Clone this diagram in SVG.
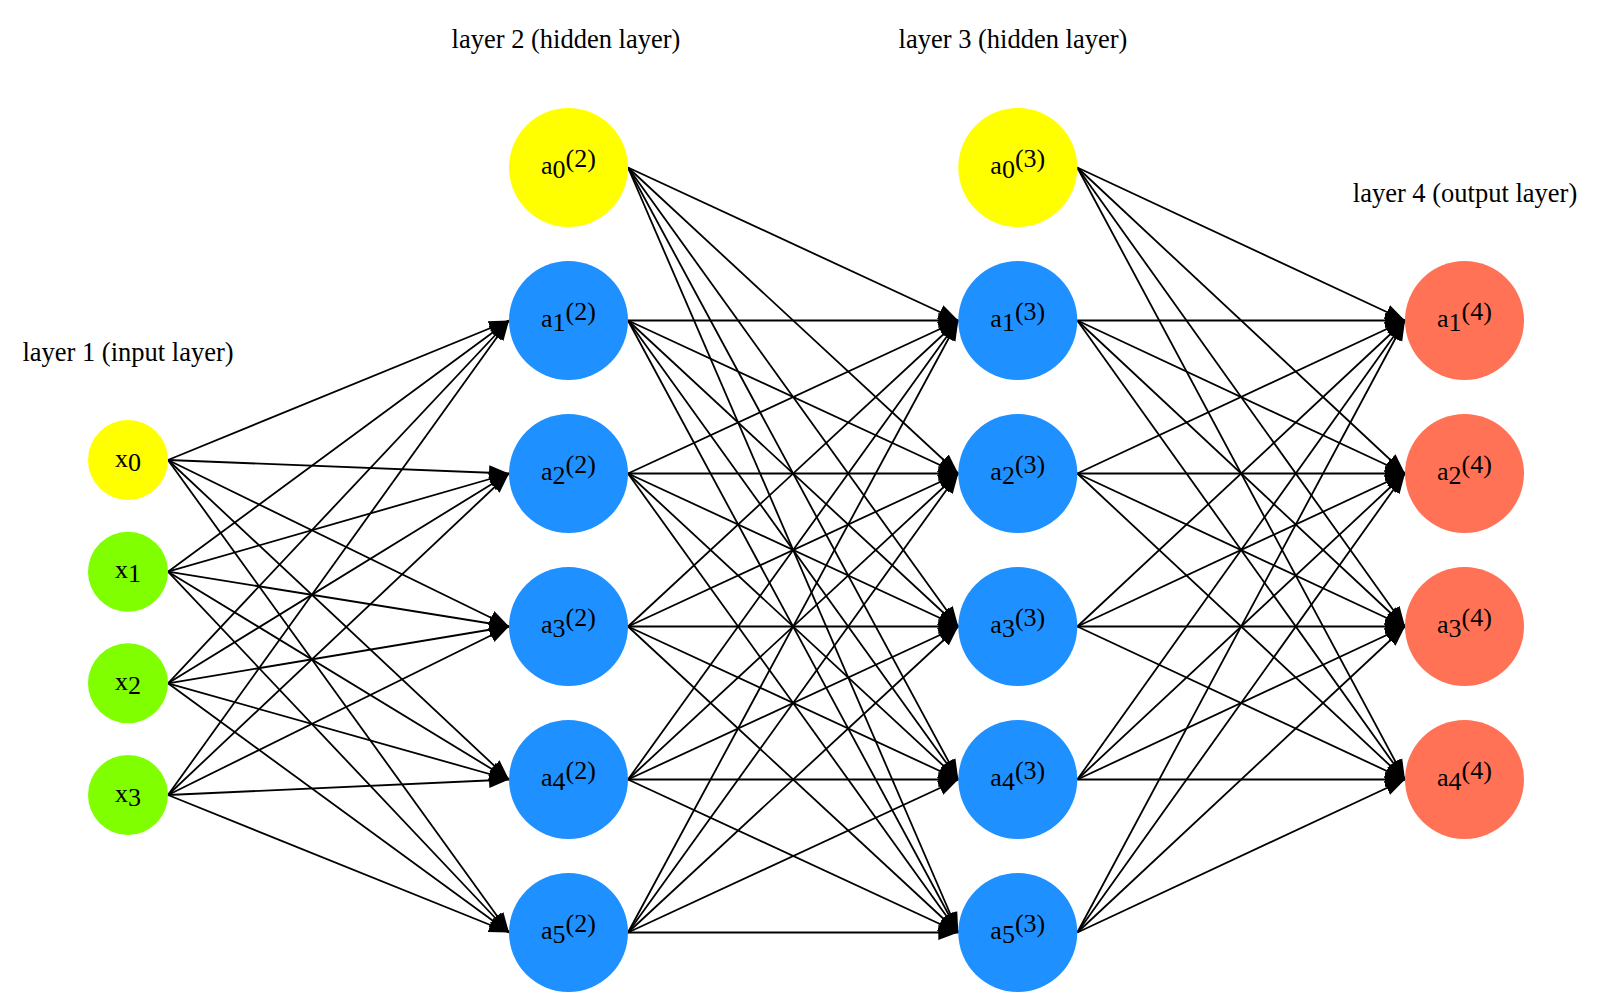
<svg xmlns="http://www.w3.org/2000/svg" width="1600" height="999" viewBox="0 0 1600 999">
<style>
.t{font-family:"Liberation Serif","Times New Roman",serif;font-size:26.5px;fill:#000;text-anchor:middle}
.n{font-family:"Liberation Serif","Times New Roman",serif;font-size:26px;fill:#000;text-anchor:middle}
.e line{stroke:#000;stroke-width:1.8;fill:none;marker-end:url(#ah)}
.bias{fill:#ffff00}
.inp{fill:#7fff00}
.hid{fill:#1e90ff}
.out{fill:#ff7256}
</style>
<defs>
<marker id="ah" markerUnits="userSpaceOnUse" markerWidth="22" markerHeight="18" viewBox="0 0 22 18" refX="20" refY="9" orient="auto">
<path d="M0,1.5 L20,9 L0,16.5 z" fill="#000"/>
</marker>
</defs>
<rect width="1600" height="999" fill="#fff"/>
<g id="labels">
<text class="t" x="128" y="360.7">layer 1 (input layer)</text>
<text class="t" x="566" y="47.5">layer 2 (hidden layer)</text>
<text class="t" x="1013" y="47.5">layer 3 (hidden layer)</text>
<text class="t" x="1465" y="201.7">layer 4 (output layer)</text>
</g>
<g id="connectors" class="e">
<line x1="168" y1="460" x2="509" y2="320.5"/>
<line x1="168" y1="460" x2="509" y2="473.5"/>
<line x1="168" y1="460" x2="509" y2="626.5"/>
<line x1="168" y1="460" x2="509" y2="779.5"/>
<line x1="168" y1="460" x2="509" y2="932.5"/>
<line x1="168" y1="571.7" x2="509" y2="320.5"/>
<line x1="168" y1="571.7" x2="509" y2="473.5"/>
<line x1="168" y1="571.7" x2="509" y2="626.5"/>
<line x1="168" y1="571.7" x2="509" y2="779.5"/>
<line x1="168" y1="571.7" x2="509" y2="932.5"/>
<line x1="168" y1="683.3" x2="509" y2="320.5"/>
<line x1="168" y1="683.3" x2="509" y2="473.5"/>
<line x1="168" y1="683.3" x2="509" y2="626.5"/>
<line x1="168" y1="683.3" x2="509" y2="779.5"/>
<line x1="168" y1="683.3" x2="509" y2="932.5"/>
<line x1="168" y1="795" x2="509" y2="320.5"/>
<line x1="168" y1="795" x2="509" y2="473.5"/>
<line x1="168" y1="795" x2="509" y2="626.5"/>
<line x1="168" y1="795" x2="509" y2="779.5"/>
<line x1="168" y1="795" x2="509" y2="932.5"/>

<line x1="628" y1="167.5" x2="958.3" y2="320.5"/>
<line x1="628" y1="167.5" x2="958.3" y2="473.5"/>
<line x1="628" y1="167.5" x2="958.3" y2="626.5"/>
<line x1="628" y1="167.5" x2="958.3" y2="779.5"/>
<line x1="628" y1="167.5" x2="958.3" y2="932.5"/>
<line x1="628" y1="320.5" x2="958.3" y2="320.5"/>
<line x1="628" y1="320.5" x2="958.3" y2="473.5"/>
<line x1="628" y1="320.5" x2="958.3" y2="626.5"/>
<line x1="628" y1="320.5" x2="958.3" y2="779.5"/>
<line x1="628" y1="320.5" x2="958.3" y2="932.5"/>
<line x1="628" y1="473.5" x2="958.3" y2="320.5"/>
<line x1="628" y1="473.5" x2="958.3" y2="473.5"/>
<line x1="628" y1="473.5" x2="958.3" y2="626.5"/>
<line x1="628" y1="473.5" x2="958.3" y2="779.5"/>
<line x1="628" y1="473.5" x2="958.3" y2="932.5"/>
<line x1="628" y1="626.5" x2="958.3" y2="320.5"/>
<line x1="628" y1="626.5" x2="958.3" y2="473.5"/>
<line x1="628" y1="626.5" x2="958.3" y2="626.5"/>
<line x1="628" y1="626.5" x2="958.3" y2="779.5"/>
<line x1="628" y1="626.5" x2="958.3" y2="932.5"/>
<line x1="628" y1="779.5" x2="958.3" y2="320.5"/>
<line x1="628" y1="779.5" x2="958.3" y2="473.5"/>
<line x1="628" y1="779.5" x2="958.3" y2="626.5"/>
<line x1="628" y1="779.5" x2="958.3" y2="779.5"/>
<line x1="628" y1="779.5" x2="958.3" y2="932.5"/>
<line x1="628" y1="932.5" x2="958.3" y2="320.5"/>
<line x1="628" y1="932.5" x2="958.3" y2="473.5"/>
<line x1="628" y1="932.5" x2="958.3" y2="626.5"/>
<line x1="628" y1="932.5" x2="958.3" y2="779.5"/>
<line x1="628" y1="932.5" x2="958.3" y2="932.5"/>

<line x1="1077.3" y1="167.5" x2="1405" y2="320.5"/>
<line x1="1077.3" y1="167.5" x2="1405" y2="473.5"/>
<line x1="1077.3" y1="167.5" x2="1405" y2="626.5"/>
<line x1="1077.3" y1="167.5" x2="1405" y2="779.5"/>
<line x1="1077.3" y1="320.5" x2="1405" y2="320.5"/>
<line x1="1077.3" y1="320.5" x2="1405" y2="473.5"/>
<line x1="1077.3" y1="320.5" x2="1405" y2="626.5"/>
<line x1="1077.3" y1="320.5" x2="1405" y2="779.5"/>
<line x1="1077.3" y1="473.5" x2="1405" y2="320.5"/>
<line x1="1077.3" y1="473.5" x2="1405" y2="473.5"/>
<line x1="1077.3" y1="473.5" x2="1405" y2="626.5"/>
<line x1="1077.3" y1="473.5" x2="1405" y2="779.5"/>
<line x1="1077.3" y1="626.5" x2="1405" y2="320.5"/>
<line x1="1077.3" y1="626.5" x2="1405" y2="473.5"/>
<line x1="1077.3" y1="626.5" x2="1405" y2="626.5"/>
<line x1="1077.3" y1="626.5" x2="1405" y2="779.5"/>
<line x1="1077.3" y1="779.5" x2="1405" y2="320.5"/>
<line x1="1077.3" y1="779.5" x2="1405" y2="473.5"/>
<line x1="1077.3" y1="779.5" x2="1405" y2="626.5"/>
<line x1="1077.3" y1="779.5" x2="1405" y2="779.5"/>
<line x1="1077.3" y1="932.5" x2="1405" y2="320.5"/>
<line x1="1077.3" y1="932.5" x2="1405" y2="473.5"/>
<line x1="1077.3" y1="932.5" x2="1405" y2="626.5"/>
<line x1="1077.3" y1="932.5" x2="1405" y2="779.5"/>
</g>

<g id="x0"><circle class="bias" cx="128" cy="460" r="40"/><text class="n" x="128" y="466.7">x<tspan dy="4">0</tspan></text></g>
<g id="x1"><circle class="inp" cx="128" cy="571.7" r="40"/><text class="n" x="128" y="578.4">x<tspan dy="4">1</tspan></text></g>
<g id="x2"><circle class="inp" cx="128" cy="683.3" r="40"/><text class="n" x="128" y="690">x<tspan dy="4">2</tspan></text></g>
<g id="x3"><circle class="inp" cx="128" cy="795" r="40"/><text class="n" x="128" y="801.7">x<tspan dy="4">3</tspan></text></g>

<g id="a0_2"><circle class="bias" cx="568.5" cy="167.5" r="59.5"/><text class="n" x="568.5" y="174">a<tspan dy="4">0</tspan><tspan dy="-11">(2)</tspan></text></g>
<g id="a1_2"><circle class="hid" cx="568.5" cy="320.5" r="59.5"/><text class="n" x="568.5" y="327">a<tspan dy="4">1</tspan><tspan dy="-11">(2)</tspan></text></g>
<g id="a2_2"><circle class="hid" cx="568.5" cy="473.5" r="59.5"/><text class="n" x="568.5" y="480">a<tspan dy="4">2</tspan><tspan dy="-11">(2)</tspan></text></g>
<g id="a3_2"><circle class="hid" cx="568.5" cy="626.5" r="59.5"/><text class="n" x="568.5" y="633">a<tspan dy="4">3</tspan><tspan dy="-11">(2)</tspan></text></g>
<g id="a4_2"><circle class="hid" cx="568.5" cy="779.5" r="59.5"/><text class="n" x="568.5" y="786">a<tspan dy="4">4</tspan><tspan dy="-11">(2)</tspan></text></g>
<g id="a5_2"><circle class="hid" cx="568.5" cy="932.5" r="59.5"/><text class="n" x="568.5" y="939">a<tspan dy="4">5</tspan><tspan dy="-11">(2)</tspan></text></g>

<g id="a0_3"><circle class="bias" cx="1017.8" cy="167.5" r="59.5"/><text class="n" x="1017.8" y="174">a<tspan dy="4">0</tspan><tspan dy="-11">(3)</tspan></text></g>
<g id="a1_3"><circle class="hid" cx="1017.8" cy="320.5" r="59.5"/><text class="n" x="1017.8" y="327">a<tspan dy="4">1</tspan><tspan dy="-11">(3)</tspan></text></g>
<g id="a2_3"><circle class="hid" cx="1017.8" cy="473.5" r="59.5"/><text class="n" x="1017.8" y="480">a<tspan dy="4">2</tspan><tspan dy="-11">(3)</tspan></text></g>
<g id="a3_3"><circle class="hid" cx="1017.8" cy="626.5" r="59.5"/><text class="n" x="1017.8" y="633">a<tspan dy="4">3</tspan><tspan dy="-11">(3)</tspan></text></g>
<g id="a4_3"><circle class="hid" cx="1017.8" cy="779.5" r="59.5"/><text class="n" x="1017.8" y="786">a<tspan dy="4">4</tspan><tspan dy="-11">(3)</tspan></text></g>
<g id="a5_3"><circle class="hid" cx="1017.8" cy="932.5" r="59.5"/><text class="n" x="1017.8" y="939">a<tspan dy="4">5</tspan><tspan dy="-11">(3)</tspan></text></g>

<g id="a1_4"><circle class="out" cx="1464.5" cy="320.5" r="59.5"/><text class="n" x="1464.5" y="327">a<tspan dy="4">1</tspan><tspan dy="-11">(4)</tspan></text></g>
<g id="a2_4"><circle class="out" cx="1464.5" cy="473.5" r="59.5"/><text class="n" x="1464.5" y="480">a<tspan dy="4">2</tspan><tspan dy="-11">(4)</tspan></text></g>
<g id="a3_4"><circle class="out" cx="1464.5" cy="626.5" r="59.5"/><text class="n" x="1464.5" y="633">a<tspan dy="4">3</tspan><tspan dy="-11">(4)</tspan></text></g>
<g id="a4_4"><circle class="out" cx="1464.5" cy="779.5" r="59.5"/><text class="n" x="1464.5" y="786">a<tspan dy="4">4</tspan><tspan dy="-11">(4)</tspan></text></g>
</svg>
